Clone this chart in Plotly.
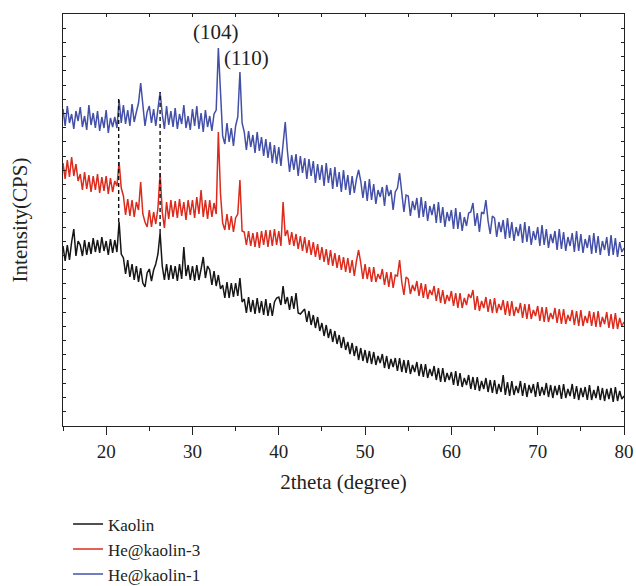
import numpy as np
import plotly.graph_objects as go

# 2theta grid (degrees), step 0.25 from 15 to 80
theta_start, theta_step, theta_count = 15.0, 0.25, 261

# Intensities (arbitrary units; offset-stacked as in original)
kaolin = [
    180, 165, 181, 166,  184, 197, 170, 185,  181, 170, 186, 171,  184, 172, 188, 174,
    186, 173, 189, 175,  185, 171, 187, 173,  186, 174, 204, 172,  168, 152, 166, 149,
    162, 146, 160, 144,  158, 143, 139, 153,  157, 145, 156, 162,  172, 193, 160, 146,
    162, 146, 161, 147,  160, 145, 162, 147,  179, 150, 161, 146,  160, 145, 161, 146,
    157, 169, 148, 160,  156, 141, 155, 140,  151, 137, 141, 128,  144, 128, 143, 129,
    143, 130, 148, 124,  127, 113, 129, 114,  126, 112, 128, 113,  125, 111, 127, 110,
    123, 110, 124, 128,  129, 121, 140, 122,  129, 116, 130, 117,  133, 113, 112, 114,
    117, 104, 115, 101,  111, 98, 109, 95,  103, 90, 101, 88,  97, 84, 95, 82,
    91, 78, 89, 76,  84, 72, 83, 70,  80, 66, 78, 65,  76, 63, 75, 62,
    74, 61, 70, 63,  72, 58, 70, 57,  67, 59, 68, 55,  68, 54, 66, 53,
    66, 52, 61, 54,  64, 50, 62, 49,  62, 48, 57, 50,  60, 46, 58, 44,
    58, 44, 53, 46,  54, 41, 55, 40,  53, 39, 48, 41,  51, 37, 49, 36,
    49, 35, 45, 37,  48, 34, 46, 33,  46, 32, 42, 34,  51, 31, 44, 30,
    45, 31, 40, 33,  45, 30, 43, 29,  41, 33, 42, 29,  44, 30, 39, 31,
    43, 29, 41, 28,  40, 31, 41, 27,  42, 28, 37, 30,  42, 27, 40, 26,
    38, 29, 39, 26,  41, 26, 36, 28,  40, 26, 38, 25,  37, 27, 38, 24,
    39, 25, 35, 27,  30,
]

he_kaolin_3 = [
    263, 247, 266, 249,  269, 250, 262, 245,  252, 236, 254, 237,  251, 234, 250, 236,
    252, 233, 249, 235,  250, 232, 248, 234,  245, 240, 264, 238,  230, 211, 227, 210,
    226, 209, 224, 216,  244, 212, 204, 199,  216, 199, 214, 202,  218, 253, 214, 198,
    224, 207, 226, 209,  225, 208, 227, 210,  224, 206, 226, 211,  226, 208, 229, 212,
    236, 209, 226, 207,  226, 209, 223, 212,  294, 232, 203, 196,  212, 196, 210, 194,
    208, 212, 246, 195,  194, 181, 195, 180,  193, 179, 194, 178,  195, 181, 196, 179,
    196, 180, 197, 181,  195, 180, 224, 190,  196, 181, 194, 180,  192, 177, 190, 175,
    189, 173, 186, 171,  184, 169, 182, 166,  179, 164, 177, 161,  176, 160, 173, 158,
    171, 156, 169, 154,  168, 153, 166, 150,  165, 176, 163, 147,  162, 147, 159, 144,
    159, 144, 152, 147,  157, 141, 154, 139,  154, 138, 151, 150,  166, 144, 131, 149,
    147, 132, 141, 135,  145, 130, 143, 128,  142, 127, 136, 131,  140, 125, 138, 123,
    136, 122, 131, 125,  135, 120, 133, 118,  133, 118, 128, 121,  132, 128, 136, 116,
    130, 115, 125, 118,  129, 114, 127, 113,  128, 113, 122, 116,  126, 111, 125, 110,
    125, 110, 119, 113,  123, 108, 122, 107,  122, 107, 116, 110,  120, 105, 119, 104,
    119, 104, 113, 107,  118, 103, 117, 102,  117, 102, 111, 105,  116, 101, 115, 100,
    116, 100, 110, 103,  115, 100, 114, 99,  115, 99, 109, 102,  114, 98, 112, 97,
    113, 97, 108, 100,  104,
]

he_kaolin_1 = [
    317, 300, 320, 303,  312, 297, 315, 305,  319, 299, 310, 296,  321, 301, 313, 298,
    315, 295, 309, 298,  316, 293, 308, 299,  309, 298, 326, 303,  321, 302, 316, 300,
    322, 304, 314, 323,  343, 318, 300, 314,  320, 303, 317, 300,  316, 334, 312, 297,
    320, 301, 315, 299,  318, 297, 312, 302,  321, 298, 310, 296,  317, 300, 320, 297,
    313, 294, 316, 299,  310, 295, 312, 316,  378, 330, 290, 282,  303, 284, 298, 280,
    300, 309, 354, 303,  294, 276, 295, 279,  291, 273, 294, 275,  289, 270, 287, 268,
    284, 263, 281, 262,  279, 260, 282, 304,  275, 254, 271, 256,  272, 250, 270, 253,
    268, 247, 267, 250,  265, 243, 262, 246,  261, 240, 263, 243,  258, 237, 259, 239,
    254, 234, 256, 236,  251, 231, 250, 233,  247, 256, 245, 228,  245, 225, 247, 226,
    242, 222, 236, 229,  239, 220, 241, 230,  236, 216, 234, 238,  253, 232, 214, 231,
    230, 210, 225, 216,  228, 208, 229, 209,  225, 205, 220, 211,  222, 203, 224, 203,
    219, 199, 214, 205,  216, 197, 218, 197,  214, 195, 209, 200,  213, 214, 223, 200,
    213, 194, 214, 212,  226, 205, 192, 210,  208, 189, 204, 194,  206, 187, 208, 188,
    204, 185, 199, 190,  202, 183, 204, 184,  200, 181, 195, 186,  199, 180, 201, 181,
    197, 178, 192, 183,  195, 176, 197, 177,  194, 175, 189, 180,  193, 174, 195, 175,
    192, 173, 187, 178,  191, 172, 193, 173,  190, 171, 185, 176,  189, 170, 191, 171,
    188, 169, 184, 174,  178,
]

series_names = ["Kaolin", "He@kaolin-3", "He@kaolin-1"]
series_colors = ["#161616", "#DC2B1C", "#4450A8"]

# Reference (dashed) guide lines at two kaolin reflections
guide_x = [21.45, 26.25]
guide_top = [327, 334]
guide_bottom = [204, 193]

# Peak labels
peak_labels = ["(104)", "(110)"]
peak_label_x = [32.7, 36.3]
peak_label_y = [394, 368]

x_ticks = [20, 30, 40, 50, 60, 70, 80]

theta = theta_start + theta_step * np.arange(theta_count)

FONT = "Liberation Serif"
fig = go.Figure()

for name, vals, col in zip(series_names, [kaolin, he_kaolin_3, he_kaolin_1], series_colors):
    n = min(len(vals), theta_count)
    fig.add_trace(go.Scatter(x=theta[:n], y=vals[:n], mode="lines", name=name,
                             line=dict(color=col, width=1.5)))

for gx, gt, gb in zip(guide_x, guide_top, guide_bottom):
    fig.add_trace(go.Scatter(x=[gx, gx], y=[gb, gt], mode="lines", showlegend=False,
                             line=dict(color="#111111", width=1.4, dash="4px,3px"),
                             hoverinfo="skip"))

# invisible trace to carry the top axis
fig.add_trace(go.Scatter(x=[15, 80], y=[None, None], xaxis="x2", showlegend=False,
                         hoverinfo="skip"))

for txt, lx, ly in zip(peak_labels, peak_label_x, peak_label_y):
    fig.add_annotation(x=lx, y=ly, text=txt, showarrow=False,
                       font=dict(family=FONT, size=21, color="#222222"))

YMAX = 412
fig.update_layout(
    width=636, height=586,
    margin=dict(l=63, r=12, t=14, b=160, autoexpand=False),
    paper_bgcolor="white", plot_bgcolor="white",
    font=dict(family=FONT, color="#222222"),
    showlegend=True,
    legend=dict(x=0.009, y=-0.195, xanchor="left", yanchor="top",
                font=dict(family=FONT, size=17, color="#222222"),
                bgcolor="rgba(0,0,0,0)", tracegroupgap=0, itemwidth=30),
    xaxis=dict(range=[15, 80], tickvals=x_ticks, ticks="outside", ticklen=8,
               tickwidth=1.2, tickcolor="#222", showline=True, linecolor="#222",
               linewidth=1.4, showgrid=False, zeroline=False,
               tickfont=dict(family=FONT, size=19, color="#222"),
               minor=dict(dtick=5, tick0=15, ticks="outside", ticklen=4,
                          tickwidth=1.2, tickcolor="#222", showgrid=False),
               title=dict(text="2theta (degree)", font=dict(family=FONT, size=21),
                          standoff=13)),
    xaxis2=dict(range=[15, 80], overlaying="x", side="top", dtick=5, tick0=15,
                ticks="inside", ticklen=3, tickwidth=1.2, tickcolor="#222",
                showticklabels=False, showline=True, linecolor="#222", linewidth=1.4,
                showgrid=False, zeroline=False),
    yaxis=dict(range=[0, YMAX], tick0=0, dtick=YMAX / 29, ticks="inside", ticklen=3,
               tickwidth=1.2, tickcolor="#222", showticklabels=False, showline=True,
               linecolor="#222", linewidth=1.4, mirror="ticks", showgrid=False,
               zeroline=False,
               title=dict(text="Intensity(CPS)", font=dict(family=FONT, size=21),
                          standoff=28)),
)

fig.write_html("out.html")
